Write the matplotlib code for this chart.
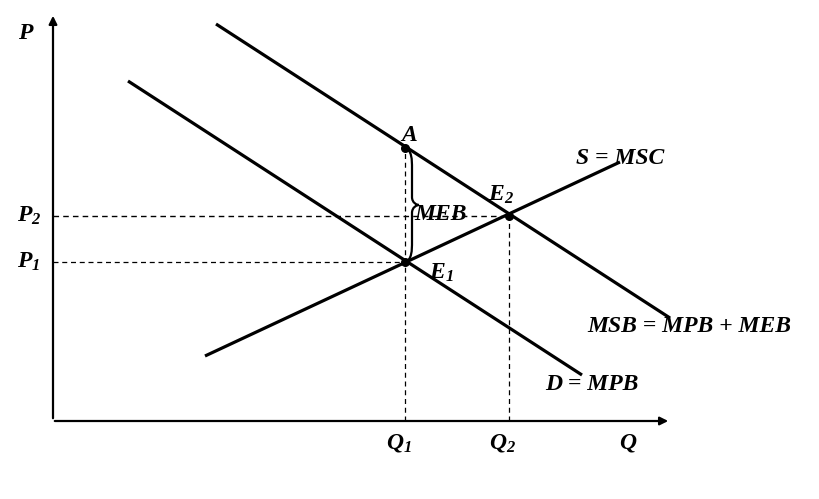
import matplotlib.pyplot as plt
from matplotlib.path import Path
from matplotlib.patches import PathPatch

plt.rcParams["mathtext.fontset"] = "custom"
plt.rcParams["mathtext.rm"] = "Liberation Serif:bold:italic"
plt.rcParams["mathtext.it"] = "Liberation Serif:bold:italic"
plt.rcParams["mathtext.bf"] = "Liberation Serif:bold:italic"

# origin of the diagram at the axes corner; units roughly follow the picture
msb_x = [163, 617]
msb_y = [397, 103]
d_x = [75, 529]
d_y = [340, 46]
s_x = [152, 567]
s_y = [65, 259]

# key points
pt_names = ["A", "E1", "E2"]
pt_x = [352, 352, 456]
pt_y = [273, 159, 205]

q_ticks = [352, 456]
p_ticks = [159, 205]

fig = plt.figure(figsize=(8.2, 4.99), dpi=100)
ax = fig.add_axes([0, 0, 1, 1])
ax.set_xlim(-53, 767)
ax.set_ylim(-78, 421)
ax.axis("off")

font = dict(family="Liberation Serif", weight="bold", style="italic", fontsize=17)

# axes with arrows
ax.annotate("", xy=(0, 408), xytext=(0, 0),
            arrowprops=dict(arrowstyle="-|>", lw=1.6, color="black", mutation_scale=12))
ax.annotate("", xy=(618, 0), xytext=(-1, 0),
            arrowprops=dict(arrowstyle="-|>", lw=1.6, color="black", mutation_scale=12))

# curves
ax.plot(msb_x, msb_y, color="black", lw=2.3, solid_capstyle="butt")
ax.plot(d_x, d_y, color="black", lw=2.3, solid_capstyle="butt")
ax.plot(s_x, s_y, color="black", lw=2.3, solid_capstyle="butt")

# dashed guides
ax.plot([0, pt_x[2]], [p_ticks[1], p_ticks[1]], color="black", lw=1, ls=(0, (4, 3)))
ax.plot([0, pt_x[1]], [p_ticks[0], p_ticks[0]], color="black", lw=0.9, ls=(0, (4, 3)))
ax.plot([q_ticks[0], q_ticks[0]], [0, pt_y[0]], color="black", lw=0.9, ls=(0, (4, 3)))
ax.plot([q_ticks[1], q_ticks[1]], [0, pt_y[2]], color="black", lw=0.9, ls=(0, (4, 3)))

ax.scatter(pt_x, pt_y, s=30, color="black", zorder=5)

# brace between A and E1
x0 = pt_x[0]
top, bot = pt_y[0], pt_y[1]
mid = (top + bot) / 2
verts = [
    (x0, top), (x0 + 7, top - 2), (x0 + 7, top - 12), (x0 + 7, top - 20),
    (x0 + 7, mid + 20), (x0 + 7, mid + 20), (x0 + 7, mid + 8),
    (x0 + 7, mid + 2), (x0 + 12, mid), (x0 + 14, mid),
    (x0 + 12, mid), (x0 + 7, mid - 2), (x0 + 7, mid - 8),
    (x0 + 7, mid - 20), (x0 + 7, bot + 20), (x0 + 7, bot + 20),
    (x0 + 7, bot + 12), (x0 + 7, bot + 2), (x0, bot),
]
codes = [Path.MOVETO] + [Path.CURVE4] * 18
ax.add_patch(PathPatch(Path(verts, codes), fill=False, lw=1.6, color="black"))

# labels
ax.text(-28, 388, "P", ha="center", va="center", **font)
ax.text(-24, p_ticks[1], "P$_2$", ha="center", va="center", **font)
ax.text(-24, p_ticks[0], "P$_1$", ha="center", va="center", **font)
ax.text(q_ticks[0] - 6, -22, "Q$_1$", ha="center", va="center", **font)
ax.text(q_ticks[1] - 6, -22, "Q$_2$", ha="center", va="center", **font)
ax.text(575, -22, "Q", ha="center", va="center", **font)
ax.text(pt_x[0] + 4, 286, "A", ha="center", va="center", **font)
ax.text(pt_x[2] - 8, 226, "E$_2$", ha="center", va="center", **font)
ax.text(pt_x[1] + 36, 148, "E$_1$", ha="center", va="center", **font)
ax.text(pt_x[0] + 36, 206, "MEB", ha="center", va="center", **font)
ax.text(567, 263, "S = MSC", ha="center", va="center", **font)
ax.text(636, 94, "MSB = MPB + MEB", ha="center", va="center", **font)
ax.text(539, 37, "D = MPB", ha="center", va="center", **font)

fig.savefig("out.png", dpi=100)
